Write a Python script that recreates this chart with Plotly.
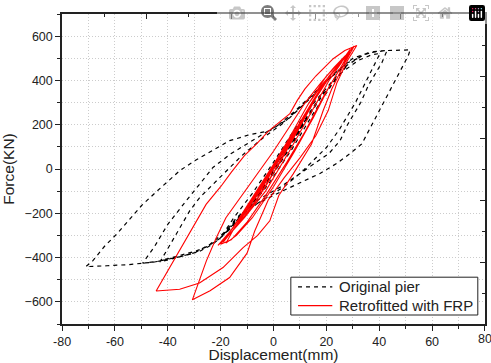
import plotly.graph_objects as go

# ---- Data ----
orig_x = [0, 4, 9, 12, 8, 2, -4, -9, -12, -8, -2, 4, 10, 16, 19, 14, 7, 0, -7, -14, -18, -13, -5, 3, 11, 19, 25, 28, 22, 15, 7, -2, -10, -17, -20,
          -15, -8, 0, 8, 16, 24, 32, 37, 40.3,
          36, 31, 25, 20.1, 15, 11, 4, -4, -12, -18, -24, -30, -38, -43,
          -40, -36, -31.7, -28, -25.4, -19, -12, -4, 4, 12, 20, 28, 34, 38, 43,
          41, 36, 33, 28, 25.2, 21, 15, 10, 2.4, -6, -14, -19.7, -25, -29.2, -38, -44, -49.5,
          -45, -40, -35, -33, -27.9, -22.9, -16, -10.2, -4, 2.4, 8, 16, 24, 30, 36, 43, 51.7,
          51, 47, 41.7, 37.5, 33.4, 29, 23.9, 17.6, 10, 2.4, -6.4, -13, -19, -23, -28, -35, -45, -55, -63, -71,
          -68.4, -64, -59, -54, -50, -45, -40, -35.5, -29.9, -23, -16.6, -9, -1.4, 6, 14, 22, 28, 33]
orig_y = [0, 80, 170, 220, 140, 20, -90, -170, -210, -150, -40, 70, 190, 300, 350, 250, 110, -20, -140, -240, -290, -220, -100, 40, 200, 340, 430, 470, 380, 250, 90, -70, -190, -270, -310,
          -220, -110, 30, 180, 310, 420, 490, 515, 522,
          420, 300, 180, 98, 38, -10, -80, -140, -200, -280, -340, -380, -405, -420,
          -360, -280, -189, -130, -98, -23, 60, 140, 210, 300, 400, 470, 515, 530, 536,
          480, 380, 300, 200, 128, 70, 20, -23, -83, -140, -220, -309, -350, -370, -400, -418, -425,
          -350, -250, -170, -143, -68, 7, 70, 113, 160, 204, 260, 350, 440, 500, 525, 535, 538,
          512, 420, 300, 205, 113, 70, 25, -20, -62, -105, -158, -220, -300, -340, -372, -395, -420, -432, -437, -441,
          -415, -350, -290, -220, -166, -110, -55, -8, 37, 85, 128, 155, 173, 230, 320, 420, 480, 505]

frp_x = [0, 3, 6, 8, 5, 0, -4, -8, -10, -6, -1, 4, 9, 13, 15, 11, 5, -2, -8, -13, -15, -11, -5, 2, 8, 14, 18, 20, 16, 9, 2, -6, -12, -17, -19,
         -14, -7, 1, 9, 16, 22, 27, 29, 25, 19, 12, 5, -3, -10, -16, -20,
         -15, -8, 0, 8, 15, 21, 26, 29, 26, 21, 15, 8, 0, -8, -14, -18,
         -15, -9, -2, 6, 13, 19, 24, 26, 21, 14, 6, -3, -11, -17, -21,
         -17, -10, -3, 5, 13, 20, 25, 28, 30.5,
         27, 22, 18.8, 14.4, 7.4, 2, -1.4, -6, -11.5, -19.1, -28, -35.5, -44.4,
         -39.3, -34.3, -29.2, -25.5, -20, -16, -11, -6.4, -2, 2.4, 6.2, 9, 11.9, 16, 22.6, 27, 31.5,
         28, 24, 20.7, 16, 10, 4, -2, -7.1, -10, -16.6, -24, -30.7,
         -25.4, -21.6, -18, -12, -6, 0, 6, 12, 18, 23, 27, 29]
frp_y = [0, 70, 140, 180, 110, 10, -80, -150, -180, -110, -20, 80, 190, 270, 300, 220, 90, -60, -170, -240, -270, -200, -100, 40, 170, 290, 360, 395, 320, 170, 20, -130, -230, -300, -330,
         -240, -120, 20, 180, 320, 430, 500, 530, 450, 330, 170, 30, -120, -240, -320, -340,
         -260, -130, 20, 170, 310, 420, 490, 540, 470, 370, 230, 80, -80, -220, -300, -335,
         -270, -170, -30, 140, 290, 390, 460, 485, 400, 250, 80, -100, -220, -300, -345,
         -290, -180, -40, 120, 290, 420, 480, 520, 555,
         480, 360, 264, 113, -23, -120, -234, -300, -355, -445, -515, -543, -551,
         -445, -339, -234, -160, -80, -15, 60, 113, 170, 211, 250, 310, 362, 420, 498, 535, 558,
         490, 390, 264, 150, 50, -40, -140, -280, -380, -490, -550, -591,
         -415, -309, -220, -120, -20, 80, 190, 300, 390, 460, 510, 530]

x_ticks = [-80, -60, -40, -20, 0, 20, 40, 60, 80]
x_ticktext = ["-80", "-60", "-40", "-20", "0", "20", "40", "60", ""]   # last label added below
last_x_label = "80"
y_ticks = [-600, -400, -200, 0, 200, 400, 600]
series_names = ["Original pier", "Retrofitted with FRP"]

FONT = "Liberation Sans, Arial, sans-serif"
INK = "#222"
DASH = "4px,4px"
RED = "#ff0000"

fig = go.Figure()
fig.add_trace(go.Scatter(x=orig_x, y=orig_y, mode="lines", name=series_names[0],
                         line=dict(color="black", width=1.2, dash=DASH)))
fig.add_trace(go.Scatter(x=frp_x, y=frp_y, mode="lines", name=series_names[1],
                         line=dict(color=RED, width=1.1)))
# invisible trace for the secondary (top/right) tick axes
fig.add_trace(go.Scatter(x=[0], y=[0], xaxis="x2", yaxis="y2", mode="markers",
                         marker=dict(opacity=0), showlegend=False, hoverinfo="skip"))

# legend drawn as a framed box (paper coordinates of the plot area)
fig.add_shape(type="rect", xref="paper", yref="paper", x0=0.541, x1=0.983, y0=0.029, y1=0.151,
              line=dict(color=INK, width=1), fillcolor="white", layer="above")
fig.add_shape(type="line", xref="paper", yref="paper", x0=0.558, x1=0.639, y0=0.120, y1=0.120,
              line=dict(color="black", width=1.2, dash=DASH), layer="above")
fig.add_shape(type="line", xref="paper", yref="paper", x0=0.558, x1=0.639, y0=0.059, y1=0.059,
              line=dict(color=RED, width=1.2), layer="above")
for yy, name in zip([0.120, 0.059], series_names):
    fig.add_annotation(xref="paper", yref="paper", x=0.649, y=yy, xanchor="left", yanchor="middle",
                       text=name, showarrow=False, font=dict(family=FONT, size=15, color=INK))

# right-most x tick label (plotly hides it at the div edge)
fig.add_annotation(xref="x", yref="paper", x=x_ticks[-1], y=0, xanchor="center", yanchor="top",
                   yshift=-6, text=last_x_label, showarrow=False,
                   font=dict(family=FONT, size=12.5, color=INK))

fig.update_layout(
    width=491, height=363,
    margin=dict(l=62, r=6, t=14, b=39, autoexpand=False),
    paper_bgcolor="white", plot_bgcolor="white",
    font=dict(family=FONT, size=12, color=INK),
    showlegend=False,
    xaxis=dict(range=[-80.02, 80.02], tickvals=x_ticks, ticktext=x_ticktext, ticks="outside",
               ticklen=5, tickwidth=1.2,
               tickcolor=INK, showline=True, linecolor=INK, linewidth=1.5, mirror=True,
               zeroline=False, showgrid=False, automargin=False, ticklabeloverflow="allow",
               minor=dict(dtick=10, tick0=-70, ticks="outside", ticklen=3, tickcolor=INK,
                          showgrid=True, gridcolor="#cccccc", griddash="1px,2px", gridwidth=1),
               tickfont=dict(size=12.5),
               title=dict(text="Displacement(mm)", font=dict(size=15.5), standoff=4)),
    yaxis=dict(range=[-700, 700], tickvals=y_ticks, ticks="outside", ticklen=5, tickwidth=1.2,
               tickcolor=INK, showline=True, linecolor=INK, linewidth=1.5, mirror=True,
               zeroline=False, showgrid=False, automargin=False, ticklabeloverflow="allow",
               minor=dict(dtick=100, tick0=-500, ticks="outside", ticklen=3, tickcolor=INK,
                          showgrid=True, gridcolor="#cccccc", griddash="1px,2px", gridwidth=1),
               tickfont=dict(size=12.5),
               title=dict(text="Force(KN)", font=dict(size=15.5), standoff=6)),
    xaxis2=dict(overlaying="x", side="top", range=[0, 10], tick0=0, dtick=2, ticks="inside",
                ticklen=5, tickcolor=INK, showticklabels=False, showgrid=False,
                zeroline=False, showline=False, automargin=False,
                minor=dict(dtick=1, ticks="inside", ticklen=3, tickcolor=INK)),
    yaxis2=dict(overlaying="y", side="right", range=[0, 10], tick0=0, dtick=2, ticks="inside",
                ticklen=5, tickcolor=INK, showticklabels=False, showgrid=False,
                zeroline=False, showline=False, automargin=False,
                minor=dict(dtick=1, ticks="inside", ticklen=3, tickcolor=INK)),
)

# remove the browser's default 8px page margin so the figure fills the 491x363 window
fig.write_html("out.html",
               post_script="document.body.style.margin='0';document.body.style.overflow='hidden';")
